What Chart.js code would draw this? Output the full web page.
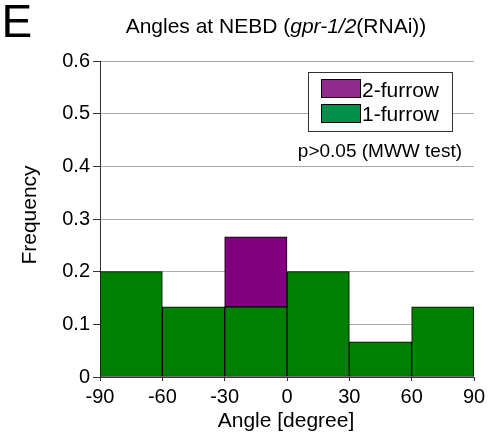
<!DOCTYPE html>
<html>
<head>
<meta charset="utf-8">
<script src="https://cdn.jsdelivr.net/npm/chart.js@4/dist/chart.umd.min.js"></script>
<style>
  html, body { margin: 0; padding: 0; background: #fff; }
  #wrap { position: relative; width: 492px; height: 447px; }
</style>
</head>
<body>
<div id="wrap"><canvas id="c" width="492" height="447"></canvas></div>
<script>
// Histogram bins (angle, degrees)
const binStarts = [-90, -60, -30, 0, 30, 60];
const binWidth = 30;
const oneFurrow = [0.2, 0.133, 0.133, 0.2, 0.067, 0.133];
const twoFurrow = [0, 0, 0.133, 0, 0, 0];
const xTickLabels = ['-90', '-60', '-30', '0', '30', '60', '90'];
const yTickLabels = ['0', '0.1', '0.2', '0.3', '0.4', '0.5', '0.6'];
const seriesNames = ['1-furrow', '2-furrow'];
const titleParts = [['Angles at NEBD (', false], ['gpr-1/2', true], ['(RNAi))', false]];
const annotation = 'p>0.05 (MWW test)';

const FONT = '"Liberation Sans", Arial, Helvetica, sans-serif';
const GREEN = '#008000', PURPLE = '#800080';
const LEG_GREEN = '#00904a', LEG_PURPLE = '#922a8e';

const centers = binStarts.map(s => s + binWidth / 2);
const toPts = arr => arr.map((v, i) => ({ x: centers[i], y: v }));

const decor = {
  id: 'decor',
  afterDraw(chart) {
    const ctx = chart.ctx;
    ctx.save();
    ctx.fillStyle = '#000';
    // Panel letter
    ctx.font = '46px ' + FONT;
    ctx.textAlign = 'left';
    ctx.textBaseline = 'alphabetic';
    ctx.fillText('E', 1.5, 37);
    // Title with italic part
    let total = 0;
    const fonts = titleParts.map(p => (p[1] ? 'italic ' : '') + '21px ' + FONT);
    titleParts.forEach((p, i) => { ctx.font = fonts[i]; total += ctx.measureText(p[0]).width; });
    let x = 276 - total / 2;
    titleParts.forEach((p, i) => {
      ctx.font = fonts[i];
      ctx.fillText(p[0], x, 33);
      x += ctx.measureText(p[0]).width;
    });
    // Axis titles
    ctx.font = '21px ' + FONT;
    ctx.textAlign = 'center';
    ctx.fillText('Angle [degree]', 286, 427);
    ctx.save();
    ctx.translate(36, 215);
    ctx.rotate(-Math.PI / 2);
    ctx.fillText('Frequency', 0, 0);
    ctx.restore();
    // Legend box
    ctx.fillStyle = '#fff';
    ctx.fillRect(308, 72, 145, 59);
    ctx.strokeStyle = '#333';
    ctx.lineWidth = 1;
    ctx.strokeRect(308.5, 72.5, 144, 59);
    const items = [[seriesNames[1], LEG_PURPLE, 79, 97], [seriesNames[0], LEG_GREEN, 104, 121]];
    items.forEach(it => {
      ctx.fillStyle = it[1];
      ctx.fillRect(321, it[2], 40, 19);
      ctx.strokeStyle = '#000';
      ctx.strokeRect(321.5, it[2] + 0.5, 39, 18);
      ctx.fillStyle = '#000';
      ctx.font = '21px ' + FONT;
      ctx.textAlign = 'left';
      ctx.fillText(it[0], 362, it[3]);
    });
    // Annotation
    ctx.font = '19px ' + FONT;
    ctx.textAlign = 'right';
    ctx.fillText(annotation, 462, 157);
    ctx.restore();
  }
};

new Chart(document.getElementById('c'), {
  type: 'bar',
  data: {
    datasets: [
      { label: seriesNames[0], data: toPts(oneFurrow), backgroundColor: GREEN, borderColor: '#000', borderWidth: 1, stack: 's', borderSkipped: false },
      { label: seriesNames[1], data: toPts(twoFurrow), backgroundColor: PURPLE, borderColor: '#000', borderWidth: 1, stack: 's', borderSkipped: false }
    ]
  },
  options: {
    responsive: false,
    animation: false,
    events: [],
    categoryPercentage: 1,
    barPercentage: 1,
    layout: { padding: { top: 61, right: 18, left: 0, bottom: 0 } },
    plugins: { legend: { display: false }, tooltip: { enabled: false }, title: { display: false } },
    scales: {
      x: {
        type: 'linear', min: -90, max: 90, stacked: true, offset: false,
        afterFit: s => { s.height = 70; },
        ticks: { stepSize: binWidth, color: '#000', font: { family: FONT, size: 20 }, padding: 4, maxRotation: 0,
                 callback: (v, i) => xTickLabels[i] },
        grid: { offset: false, drawOnChartArea: false, drawTicks: true, tickLength: 4, tickColor: '#333' },
        border: { color: '#333', width: 1 }
      },
      y: {
        min: 0, max: 0.6, stacked: true,
        afterFit: s => { s.width = 100; },
        ticks: { stepSize: 0.1, color: '#000', font: { family: FONT, size: 20 }, padding: 3,
                 callback: (v, i) => yTickLabels[i] },
        grid: { color: '#aaaaaa', drawTicks: true, tickLength: 7, tickColor: '#333' },
        border: { color: '#333', width: 1 }
      }
    }
  },
  plugins: [decor]
});
</script>
</body>
</html>
